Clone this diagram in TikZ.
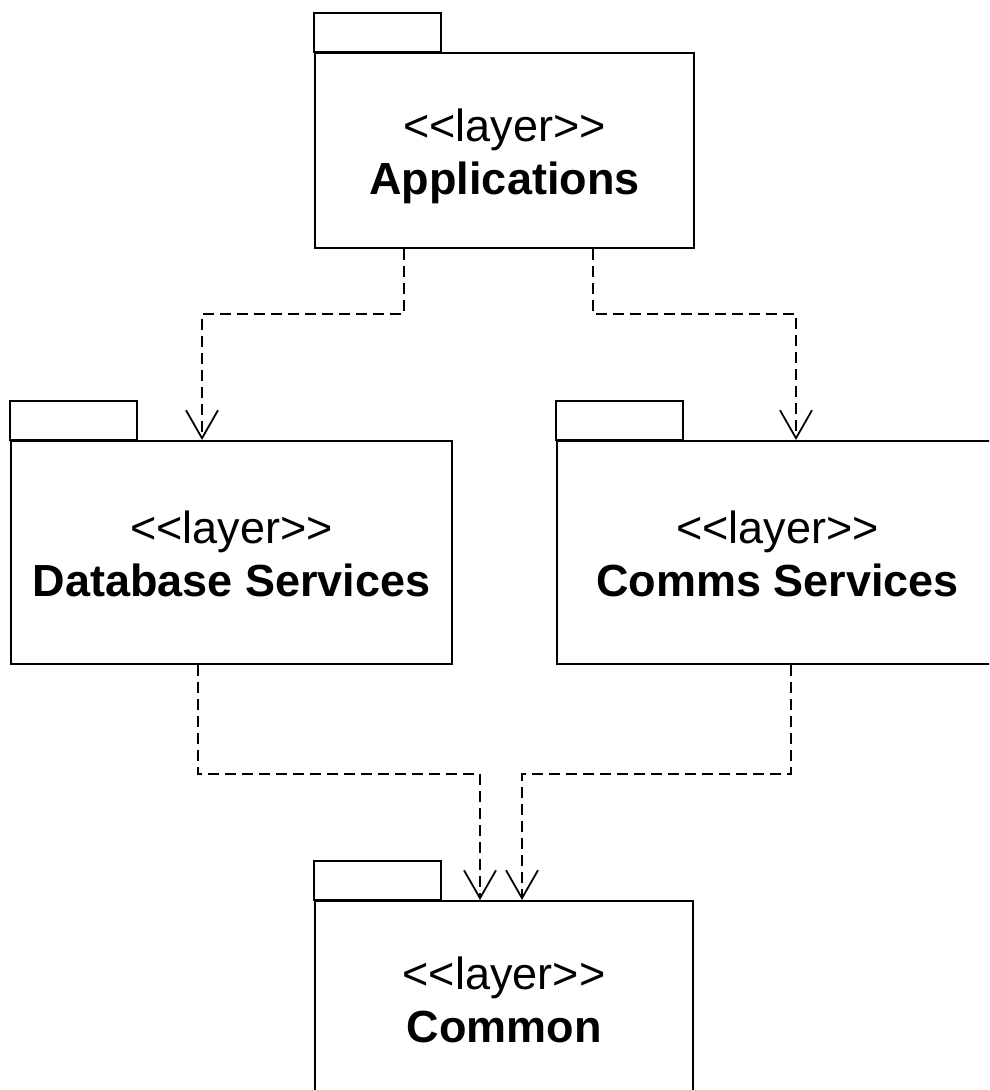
\documentclass[tikz,border=0pt]{standalone}
\usepackage{fontspec}
\setmainfont{Liberation Sans}
\usetikzlibrary{arrows.meta,positioning}

\newcommand{\lyr}{<\kern0pt<layer>\kern0pt>}

\begin{document}
\begin{tikzpicture}[x=1pt,y=1pt,
  layer/.style={draw, line width=1.9pt, minimum width=379pt, minimum height=195pt,
    align=center, inner sep=0pt, text height=90pt, text depth=2pt,
    font=\fontsize{45}{53}\selectfont},
  dep/.style={line width=1.8pt, dash pattern=on 11pt off 6pt,
    -{Straight Barb[length=28pt,width=32pt,line width=1.8pt]}}]
\clip (0,0) rectangle (989,1090);
% Layers
\node[layer] (app) at (504.5,939.5) {\lyr\\\textbf{Applications}};
\node[layer, minimum width=441pt, minimum height=223pt] (db) at (231.5,537.5) {\lyr\\\textbf{Database Services}};
\node[layer, minimum width=441pt, minimum height=223pt] (comms) at (777.5,537.5) {\lyr\\\textbf{Comms Services}};
\node[layer, minimum width=378pt] (common) at (504,91.5) {\lyr\\\textbf{Common}};
% Package tabs
\foreach \n in {app,db,comms,common}
  \draw[line width=1.9pt] (\n.north west) rectangle ++(127,39);
% Dependencies
\draw[dep] ([xshift=-100.5pt]app.south) -- ++(0,-65) -| ([xshift=-29.5pt]db.north);
\draw[dep] ([xshift=88.5pt]app.south) -- ++(0,-65) -| ([xshift=18.5pt]comms.north);
\draw[dep] ([xshift=-33.5pt]db.south) -- ++(0,-109) -| ([xshift=-24pt]common.north);
\draw[dep] ([xshift=13.5pt]comms.south) -- ++(0,-109) -| ([xshift=18pt]common.north);
\end{tikzpicture}
\end{document}
